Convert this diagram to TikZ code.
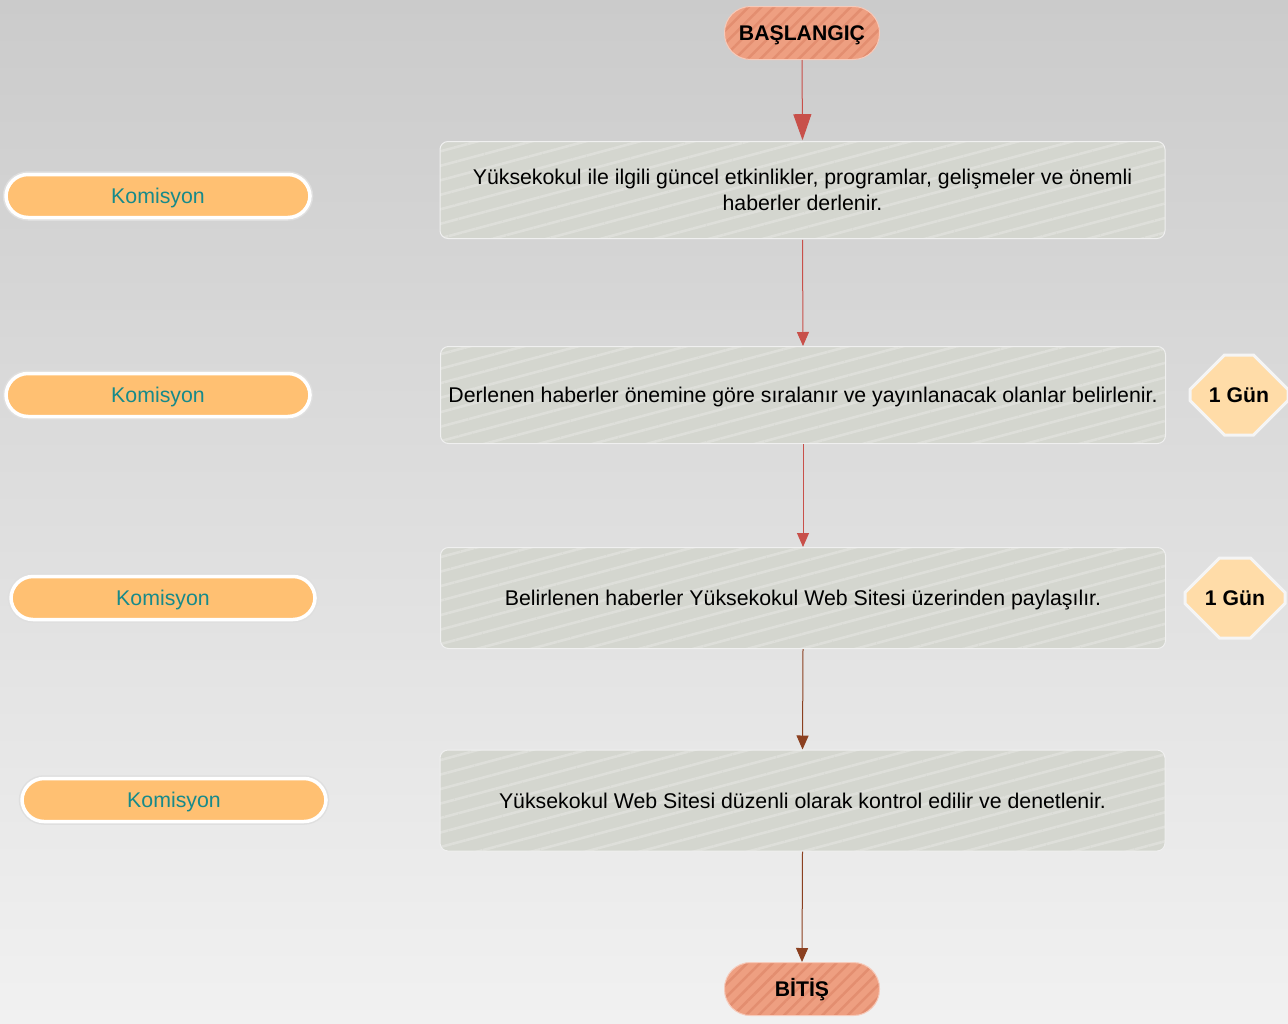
\documentclass[tikz,border=0pt]{standalone}
\usepackage{fontspec}
\setmainfont{Liberation Sans}
\usetikzlibrary{shapes.misc,arrows.meta,patterns.meta}
\definecolor{bgtop}{HTML}{CBCBCB}
\definecolor{bgbot}{HTML}{F1F1F1}
\definecolor{boxgray}{HTML}{D4D6CF}
\definecolor{boxstripe}{HTML}{DEDFDA}
\definecolor{salmon}{HTML}{EE9F81}
\definecolor{salmondark}{HTML}{E38E70}
\definecolor{rolefill}{HTML}{FFC072}
\definecolor{roletext}{HTML}{178A8A}
\definecolor{durfill}{HTML}{FFDCA8}
\definecolor{arrred}{HTML}{C8504A}
\definecolor{arrbrown}{HTML}{8B4020}
\begin{document}
\begin{tikzpicture}[x=1pt,y=-1pt,
  oneline/.style={text height=17pt, text depth=2pt},
  stepbox/.style={draw=white!88!gray, line width=1pt, rounded corners=8pt,
    minimum width=725pt, minimum height=97pt,
    preaction={fill=boxgray},
    pattern={Lines[angle=15,distance=14pt,line width=2.6pt]}, pattern color=boxstripe,
    font=\fontsize{21.3}{26}\selectfont, align=center, text=black},
  terminal/.style={oneline, rounded corners=26pt, minimum width=155pt, minimum height=53pt,
    preaction={fill=salmon},
    pattern={Lines[angle=45,distance=9pt,line width=2.5pt]}, pattern color=salmondark,
    draw=salmon!55!white, line width=1pt,
    font=\bfseries\fontsize{21.2}{24}\selectfont},
  role/.style={oneline, rounded corners=22pt, minimum width=304pt, minimum height=43pt,
    fill=rolefill, draw=white, line width=3.5pt, text=roletext,
    preaction={draw=gray!25, line width=6.5pt},
    font=\fontsize{21.3}{24}\selectfont},
  dur/.style={oneline, chamfered rectangle, chamfered rectangle xsep=23pt,
    chamfered rectangle ysep=25pt, minimum width=#1, minimum height=80pt,
    inner sep=0pt, fill=durfill, draw=white!92!gray, line width=3pt,
    font=\bfseries\fontsize{21.2}{24}\selectfont},
  flow/.style={line width=1pt, draw=arrred, -{Triangle[width=12pt,length=14pt]}},
  flowb/.style={line width=1pt, draw=arrbrown, -{Triangle[width=12pt,length=14pt]}}
]
\shade[top color=bgtop, bottom color=bgbot] (0,0) rectangle (1288,1023);
\useasboundingbox (0,0) rectangle (1288,1023);

\node[terminal] (start) at (802,33) {BAŞLANGIÇ};
\node[stepbox] (s1) at (802.5,190) {Yüksekokul ile ilgili güncel etkinlikler, programlar, gelişmeler ve önemli\\haberler derlenir.};
\node[stepbox, oneline] (s2) at (803,395) {Derlenen haberler önemine göre sıralanır ve yayınlanacak olanlar belirlenir.};
\node[stepbox, oneline, minimum height=101pt] (s3) at (803,598) {Belirlenen haberler Yüksekokul Web Sitesi üzerinden paylaşılır.};
\node[stepbox, oneline, minimum height=101pt] (s4) at (802.5,800.5) {Yüksekokul Web Sitesi düzenli olarak kontrol edilir ve denetlenir.};
\node[terminal] (end) at (802,989) {BİTİŞ};

\node[role] (r1) at (158,196) {Komisyon};
\node[role] (r2) at (158,395) {Komisyon};
\node[role] (r3) at (163,598) {Komisyon};
\node[role] (r4) at (174,800) {Komisyon};

\node[dur=98pt] (d1) at (1239,395) {1 Gün};
\node[dur=100pt] (d2) at (1235,598) {1 Gün};

\draw[line width=1pt, draw=arrred, -{Triangle[width=18pt,length=26pt]}] (start.south) -- (s1.north);
\draw[flow] (s1.south) -- (s2.north);
\draw[flow] (s2.south) -- (s3.north);
\draw[flowb] (s3.south) -- (s4.north);
\draw[flowb] (s4.south) -- (end.north);
\end{tikzpicture}
\end{document}
